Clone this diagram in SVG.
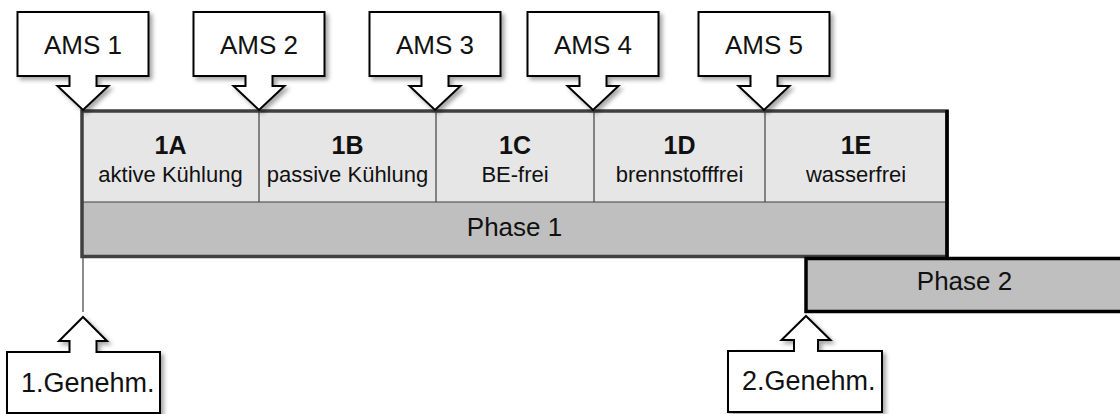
<svg xmlns="http://www.w3.org/2000/svg" width="1120" height="414" viewBox="0 0 1120 414">
<defs>
<filter id="sh" x="-20%" y="-20%" width="140%" height="150%">
<feDropShadow dx="3" dy="3" stdDeviation="2" flood-color="#000" flood-opacity="0.35"/>
</filter>
<style>
text{font-family:"Liberation Sans",Arial,sans-serif;fill:#111;text-anchor:middle}
.call{fill:#fff;stroke:#000;stroke-width:2;stroke-linejoin:miter;filter:url(#sh)}
.ams{font-size:26px}
.hd{font-size:25px;font-weight:bold}
.sub{font-size:22px}
.ph{font-size:26px}
.gen{font-size:27px;text-anchor:start}
.div{stroke:#404040;stroke-width:1.2;fill:none}
</style>
</defs>
<rect width="1120" height="414" fill="#fff"/>

<g id="phase1">
<rect x="82" y="111" width="865" height="91" fill="#e6e6e6"/>
<rect x="82" y="202" width="865" height="54.5" fill="#bfbfbf"/>
<line class="div" x1="82" y1="202" x2="947" y2="202"/>
<line class="div" x1="259" y1="111" x2="259" y2="202"/>
<line class="div" x1="436" y1="111" x2="436" y2="202"/>
<line class="div" x1="594" y1="111" x2="594" y2="202"/>
<line class="div" x1="765" y1="111" x2="765" y2="202"/>
<rect x="82" y="111" width="865" height="145.5" fill="none" stroke="#404040" stroke-width="3.5"/>
<line x1="947" y1="110" x2="947" y2="259" stroke="#000" stroke-width="3.5"/>
<text class="ph" x="514.5" y="236">Phase 1</text>
</g>

<g id="cell-1A"><text class="hd" x="170.5" y="154">1A</text><text class="sub" x="170.5" y="182">aktive Kühlung</text></g>
<g id="cell-1B"><text class="hd" x="347.5" y="154">1B</text><text class="sub" x="347.5" y="182">passive Kühlung</text></g>
<g id="cell-1C"><text class="hd" x="515" y="154">1C</text><text class="sub" x="515" y="182">BE-frei</text></g>
<g id="cell-1D"><text class="hd" x="679.5" y="154">1D</text><text class="sub" x="679.5" y="182">brennstofffrei</text></g>
<g id="cell-1E"><text class="hd" x="856" y="154">1E</text><text class="sub" x="856" y="182">wasserfrei</text></g>

<g id="phase2">
<rect x="806" y="258.5" width="320" height="53" fill="#bfbfbf" stroke="#000" stroke-width="3.5"/>
<text class="ph" x="964.5" y="290">Phase 2</text>
</g>

<g id="connectors">
<line x1="83" y1="258" x2="83" y2="312" stroke="#404040" stroke-width="1.2"/>
</g>

<g id="ams1">
<path class="call" d="M17.5,12 H148.5 V76 H96.5 V86 H108.5 L83,110 L57.5,86 H69.5 V76 H17.5 Z"/>
<text class="ams" x="83" y="54">AMS 1</text>
</g>
<g id="ams2">
<path class="call" d="M193.5,12 H324.5 V76 H272.5 V86 H284.5 L259,110 L233.5,86 H245.5 V76 H193.5 Z"/>
<text class="ams" x="259" y="54">AMS 2</text>
</g>
<g id="ams3">
<path class="call" d="M369.5,12 H500.5 V76 H448.5 V86 H460.5 L435,110 L409.5,86 H421.5 V76 H369.5 Z"/>
<text class="ams" x="435" y="54">AMS 3</text>
</g>
<g id="ams4">
<path class="call" d="M527.5,12 H658.5 V76 H606.5 V86 H618.5 L593,110 L567.5,86 H579.5 V76 H527.5 Z"/>
<text class="ams" x="593" y="54">AMS 4</text>
</g>
<g id="ams5">
<path class="call" d="M698.5,12 H829.5 V76 H777.5 V86 H789.5 L764,110 L738.5,86 H750.5 V76 H698.5 Z"/>
<text class="ams" x="764" y="54">AMS 5</text>
</g>

<g id="genehm1">
<path class="call" d="M83,317 L107,341 H96.5 V352 H160 V413 H7 V352 H69.5 V341 H59 Z"/>
<text class="gen" x="21" y="392">1.Genehm.</text>
</g>
<g id="genehm2">
<path class="call" d="M806,316 L830.5,340 H818 V351 H882 V412 H728 V351 H794 V340 H781.5 Z"/>
<text class="gen" x="742" y="390">2.Genehm.</text>
</g>
</svg>
